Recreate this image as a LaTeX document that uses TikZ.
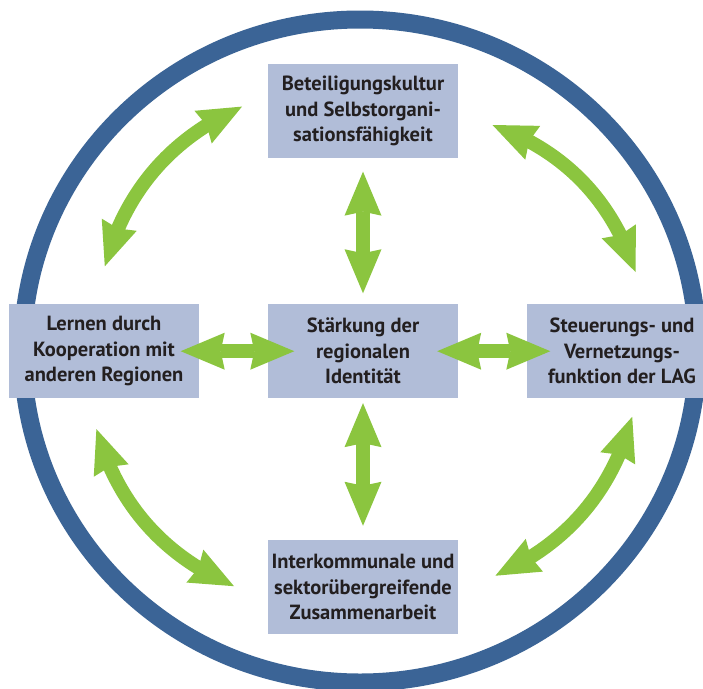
\documentclass[tikz,border=0pt]{standalone}
\usepackage{fontspec}
\setmainfont{PT Sans}
\usetikzlibrary{arrows.meta,bending,calc}
\definecolor{ringblue}{RGB}{59,100,150}
\definecolor{boxfill}{RGB}{177,189,216}
\definecolor{agreen}{RGB}{139,197,63}
\definecolor{txt}{RGB}{35,31,32}
\tikzset{
  gtip/.tip={Stealth[length=44pt,width=37pt,inset=4pt,line width=0pt]},
}
\begin{document}
\begin{tikzpicture}[x=1pt,y=-1pt,
  box/.style={fill=boxfill, draw=none, minimum width=190pt, minimum height=94.5pt,
    inner sep=0pt, align=center, font=\fontsize{20.5}{25.5}\selectfont\bfseries, text=txt},
  garrow/.style={draw=agreen, line width=14pt, gtip-gtip},
  ring/.style={draw=ringblue, line width=18pt}]
\useasboundingbox (0,0) rectangle (703,688);
\clip (0,0) rectangle (703,688);
\fill[white] (0,0) rectangle (703,688);
\draw[ring] (360,351) ellipse [x radius=337.5, y radius=331.5];

\node[box] (top) at (363,111.2) {Beteiligungskultur\\und Selbstorgani-\\sationsfähigkeit};
\node[box] (ctr) at (363,351.2) {Stärkung der\\regionalen\\Identität};
\node[box] (lft) at (104,351.2) {Lernen durch\\Kooperation mit\\anderen Regionen};
\node[box] (rgt) at (622,351.2) {Steuerungs- und\\Vernetzungs-\\funktion der LAG};
\node[box] (bot) at (363,587.2) {Interkommunale und\\sektorübergreifende\\Zusammenarbeit};

\draw[garrow] ([yshift=-13pt]top.south) -- ([yshift=10.5pt]ctr.north);
\draw[garrow] ([yshift=-4.5pt]ctr.south) -- ([yshift=14pt]bot.north);
\draw[garrow] ([xshift=-18.5pt]lft.east) -- ([xshift=26.5pt]ctr.west);
\draw[garrow] ([xshift=-21pt]ctr.east) -- ([xshift=23.5pt]rgt.west);

\coordinate (ul1) at (242,106.6);
\coordinate (ul2) at (104.8,266.3);
\coordinate (ur1) at (492.5,125);
\coordinate (ur2) at (635.5,272);
\coordinate (ll1) at (96.4,429.1);
\coordinate (ll2) at (234,586.2);
\coordinate (lr1) at (632.2,416.8);
\coordinate (lr2) at (495.4,575.7);

\draw[garrow] (ul1) .. controls (170.9,138.1) and (125.2,191.3) .. (ul2);
\draw[garrow] (ur1) .. controls (564.2,150.7) and (611.8,199.7) .. (ur2);
\draw[garrow] (ll1) .. controls (117.2,503.4) and (163.1,555.8) .. (ll2);
\draw[garrow] (lr1) .. controls (611.9,491.5) and (566.3,544.5) .. (lr2);
\end{tikzpicture}
\end{document}
